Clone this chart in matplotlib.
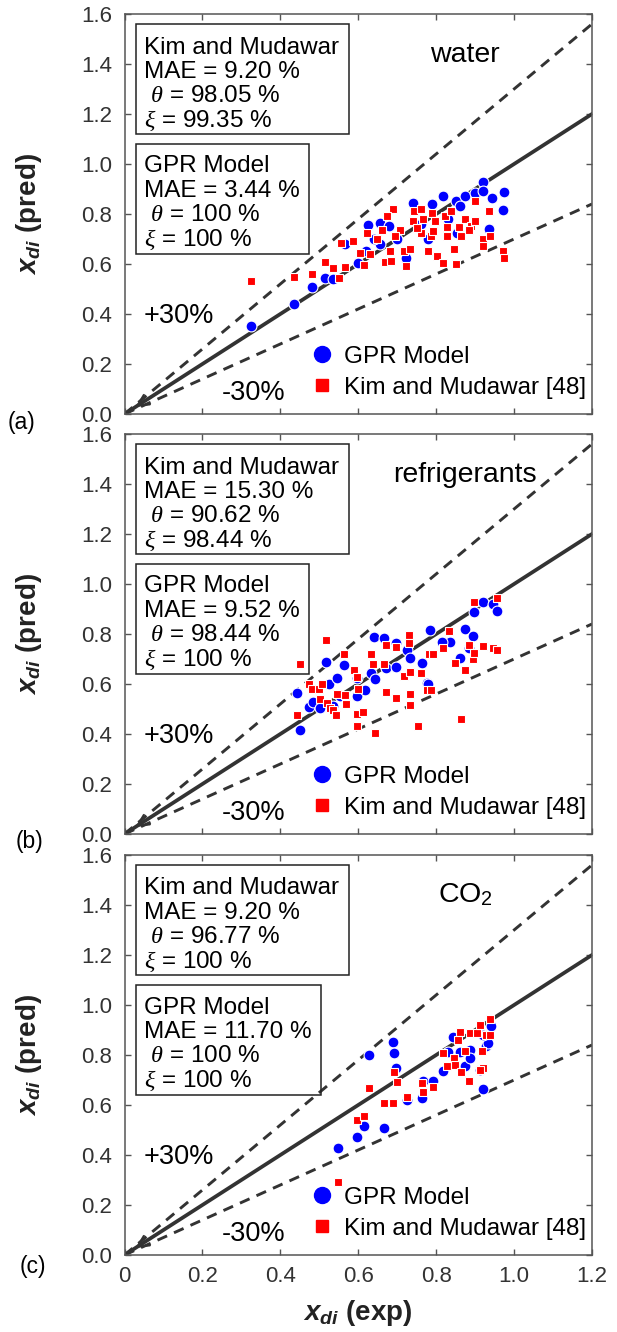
import matplotlib
matplotlib.use("Agg")
import matplotlib.pyplot as plt
from matplotlib.lines import Line2D
from matplotlib.patches import Rectangle
import numpy as np

plt.rcParams["font.family"] = ["Liberation Sans", "DejaVu Sans"]
plt.rcParams["mathtext.fontset"] = "custom"
plt.rcParams["mathtext.rm"] = "Liberation Sans"
plt.rcParams["mathtext.it"] = "Liberation Serif:italic"
plt.rcParams["mathtext.bf"] = "Liberation Sans:bold"
plt.rcParams["mathtext.sf"] = "Liberation Sans:bold:italic"

# ---------------- data ----------------
# (a) water
water_gpr_x = [0.324, 0.435, 0.481, 0.515, 0.535, 0.566, 0.600, 0.626, 0.656, 0.680, 0.656,
               0.723, 0.741, 0.790, 0.818, 0.850, 0.874, 0.860, 0.900, 0.921, 0.921, 0.943,
               0.974, 0.971, 0.936, 0.853, 0.700, 0.760, 0.780, 0.830, 0.620, 0.640]
water_gpr_y = [0.350, 0.440, 0.509, 0.544, 0.540, 0.679, 0.603, 0.756, 0.763, 0.750, 0.680,
               0.623, 0.845, 0.840, 0.872, 0.850, 0.872, 0.830, 0.883, 0.929, 0.890, 0.863,
               0.889, 0.816, 0.740, 0.723, 0.700, 0.760, 0.700, 0.780, 0.650, 0.700]
water_kim_x = [0.324, 0.435, 0.481, 0.514, 0.535, 0.551, 0.566, 0.557, 0.586, 0.616, 0.605,
               0.631, 0.622, 0.661, 0.669, 0.690, 0.674, 0.681, 0.685, 0.707, 0.717, 0.723,
               0.733, 0.741, 0.743, 0.760, 0.765, 0.778, 0.786, 0.790, 0.797, 0.803, 0.818,
               0.822, 0.827, 0.827, 0.839, 0.847, 0.850, 0.858, 0.875, 0.890, 0.900, 0.900,
               0.920, 0.920, 0.936, 0.939, 0.971, 0.974, 0.760, 0.793, 0.695, 0.648, 0.750,
               0.865, 0.885]
water_kim_y = [0.533, 0.549, 0.560, 0.609, 0.583, 0.543, 0.587, 0.683, 0.692, 0.596, 0.643,
               0.641, 0.723, 0.736, 0.609, 0.820, 0.790, 0.650, 0.610, 0.736, 0.650, 0.592,
               0.660, 0.770, 0.810, 0.725, 0.780, 0.652, 0.710, 0.805, 0.770, 0.632, 0.603,
               0.790, 0.747, 0.710, 0.810, 0.660, 0.600, 0.746, 0.780, 0.750, 0.850, 0.770,
               0.700, 0.670, 0.810, 0.710, 0.650, 0.622, 0.820, 0.730, 0.710, 0.700, 0.745,
               0.710, 0.735]

# (b) refrigerants
refr_gpr_x = [0.444, 0.450, 0.474, 0.485, 0.502, 0.517, 0.524, 0.546, 0.564, 0.536, 0.553,
              0.596, 0.596, 0.617, 0.640, 0.632, 0.644, 0.666, 0.671, 0.697, 0.697, 0.726,
              0.733, 0.764, 0.776, 0.784, 0.836, 0.814, 0.861, 0.874, 0.895, 0.898, 0.919,
              0.947, 0.955, 0.885, 0.780]
refr_gpr_y = [0.564, 0.415, 0.509, 0.529, 0.505, 0.689, 0.599, 0.625, 0.676, 0.513, 0.553,
              0.625, 0.553, 0.575, 0.788, 0.645, 0.619, 0.785, 0.663, 0.765, 0.668, 0.735,
              0.705, 0.685, 0.605, 0.815, 0.769, 0.769, 0.705, 0.821, 0.791, 0.889, 0.929,
              0.919, 0.892, 0.745, 0.600]
refr_kim_x = [0.450, 0.442, 0.473, 0.482, 0.500, 0.502, 0.506, 0.517, 0.521, 0.527, 0.536,
              0.543, 0.546, 0.564, 0.568, 0.566, 0.590, 0.596, 0.596, 0.596, 0.600, 0.613,
              0.632, 0.639, 0.644, 0.666, 0.671, 0.671, 0.697, 0.697, 0.717, 0.729, 0.729,
              0.733, 0.733, 0.734, 0.754, 0.762, 0.776, 0.788, 0.782, 0.793, 0.817, 0.834,
              0.849, 0.864, 0.873, 0.883, 0.895, 0.898, 0.919, 0.945, 0.957, 0.956, 0.897]
refr_kim_y = [0.681, 0.476, 0.600, 0.582, 0.580, 0.541, 0.599, 0.776, 0.524, 0.504, 0.497,
              0.476, 0.561, 0.721, 0.520, 0.556, 0.655, 0.628, 0.479, 0.432, 0.580, 0.488,
              0.719, 0.681, 0.403, 0.681, 0.756, 0.568, 0.749, 0.545, 0.631, 0.795, 0.765,
              0.648, 0.560, 0.515, 0.432, 0.644, 0.575, 0.575, 0.719, 0.719, 0.743, 0.812,
              0.685, 0.461, 0.657, 0.756, 0.699, 0.929, 0.752, 0.743, 0.735, 0.943, 0.725]

# (c) CO2
co2_gpr_x = [0.548, 0.596, 0.615, 0.667, 0.628, 0.690, 0.692, 0.698, 0.724, 0.763, 0.765,
             0.793, 0.818, 0.831, 0.844, 0.861, 0.874, 0.887, 0.887, 0.921, 0.928, 0.940,
             0.934, 0.912, 0.921]
co2_gpr_y = [0.429, 0.473, 0.516, 0.507, 0.800, 0.851, 0.807, 0.747, 0.620, 0.627, 0.696,
             0.696, 0.736, 0.813, 0.873, 0.813, 0.756, 0.820, 0.787, 0.664, 0.836, 0.916,
             0.850, 0.740, 0.880]
co2_kim_x = [0.548, 0.596, 0.615, 0.628, 0.667, 0.688, 0.692, 0.700, 0.724, 0.763, 0.767,
             0.793, 0.818, 0.827, 0.847, 0.849, 0.861, 0.864, 0.874, 0.885, 0.887, 0.906,
             0.912, 0.917, 0.921, 0.927, 0.937, 0.912, 0.857, 0.937]
co2_kim_y = [0.291, 0.540, 0.556, 0.667, 0.607, 0.609, 0.733, 0.691, 0.633, 0.689, 0.653,
             0.671, 0.807, 0.756, 0.787, 0.760, 0.893, 0.733, 0.817, 0.697, 0.890, 0.890,
             0.920, 0.817, 0.749, 0.880, 0.944, 0.740, 0.860, 0.880]

fluids = ["water", "refrigerants", "CO$_2$"]
panel_tags = ["(a)", "(b)", "(c)"]
kim_stats = [["Kim and Mudawar", "MAE = 9.20 %", r" $\theta$ = 98.05 %", r"$\xi$ = 99.35 %"],
             ["Kim and Mudawar", "MAE = 15.30 %", r" $\theta$ = 90.62 %", r"$\xi$ = 98.44 %"],
             ["Kim and Mudawar", "MAE = 9.20 %", r" $\theta$ = 96.77 %", r"$\xi$ = 100 %"]]
gpr_stats = [["GPR Model", "MAE = 3.44 %", r" $\theta$ = 100 %", r"$\xi$ = 100 %"],
             ["GPR Model", "MAE = 9.52 %", r" $\theta$ = 98.44 %", r"$\xi$ = 100 %"],
             ["GPR Model", "MAE = 11.70 %", r" $\theta$ = 100 %", r"$\xi$ = 100 %"]]
x_ticks = [0, 0.2, 0.4, 0.6, 0.8, 1.0, 1.2]
x_tick_labels = ["0", "0.2", "0.4", "0.6", "0.8", "1.0", "1.2"]
y_ticks = [0.0, 0.2, 0.4, 0.6, 0.8, 1.0, 1.2, 1.4, 1.6]
y_tick_labels = ["0.0", "0.2", "0.4", "0.6", "0.8", "1.0", "1.2", "1.4", "1.6"]

panels = [(water_gpr_x, water_gpr_y, water_kim_x, water_kim_y),
          (refr_gpr_x, refr_gpr_y, refr_kim_x, refr_kim_y),
          (co2_gpr_x, co2_gpr_y, co2_kim_x, co2_kim_y)]

# ---------------- layout ----------------
W, H = 617, 1332
fig = plt.figure(figsize=(W / 100, H / 100), dpi=100)
AX_L, AX_W, AX_H = 124.5, 467.5, 400.0
tops = [14, 434, 855]
tag_pos = [(-0.221, -0.022), (-0.204, -0.018), (-0.195, -0.030)]

LINE_C = "#333333"
SPINE_C = "#555555"
TICK_C = "#333333"
BOX_FS = 17.5


def frac(px, py):
    """axes fraction from pixel offsets measured from the axes' top-left corner"""
    return px / AX_W, 1 - py / AX_H


axes = []
box_groups = []
for i, (gx, gy, kx, ky) in enumerate(panels):
    bottom = 1 - (tops[i] + AX_H) / H
    ax = fig.add_axes([AX_L / W, bottom, AX_W / W, AX_H / H])
    axes.append(ax)
    ax.set_xlim(0, 1.2)
    ax.set_ylim(0, 1.6)

    ref = np.array([0.0, 1.2])
    ax.plot(ref, ref, color=LINE_C, lw=2.7, zorder=2)
    ax.plot(ref, 1.3 * ref, color=LINE_C, lw=2.1, dashes=(3.6, 2.6), zorder=2)
    ax.plot(ref, 0.7 * ref, color=LINE_C, lw=2.1, dashes=(3.6, 2.6), zorder=2)
    ax.annotate("", xy=(0.028, 0.028), xytext=(0.08, 0.08),
                arrowprops=dict(arrowstyle="->,head_length=0.8,head_width=0.4",
                                color=LINE_C, lw=1.6, shrinkA=0, shrinkB=0), zorder=2)

    ax.plot(gx, gy, "o", ms=7.8, mfc="#0000ff", mec="white", mew=0.8, ls="none", zorder=3)
    ax.plot(kx, ky, "s", ms=6.0, mfc="#ff0000", mec="white", mew=0.8, ls="none", zorder=4)

    # ticks and spines
    ax.set_xticks(x_ticks)
    ax.set_yticks(y_ticks)
    ax.set_yticklabels(y_tick_labels)
    if i == 2:
        ax.set_xticklabels(x_tick_labels)
    else:
        ax.set_xticklabels([])
    ax.tick_params(direction="in", top=True, right=True, length=4, width=1.0,
                   color=SPINE_C, labelsize=16, labelcolor=TICK_C)
    ax.tick_params(axis="y", pad=9)
    ax.tick_params(axis="x", pad=8)
    for sp in ax.spines.values():
        sp.set_color(SPINE_C)
        sp.set_linewidth(1.1)

    ax.set_ylabel(r"$\mathsf{x_{di}}$ (pred)", fontsize=20, fontweight="bold",
                  color="#222222", va="center")
    ax.yaxis.set_label_coords(-0.205, 0.5)
    if i == 2:
        ax.set_xlabel(r"$\mathsf{x_{di}}$ (exp)", fontsize=20, fontweight="bold",
                      color="#222222", va="center")
        ax.xaxis.set_label_coords(0.5, -0.145)

    ax.text(*tag_pos[i], panel_tags[i], transform=ax.transAxes, fontsize=16.5,
            ha="center", va="center")

    # annotations
    ax.text(0.874, 1.41, fluids[i], fontsize=20.5, ha="center", va="baseline")
    ax.text(0.048, 0.363, "+30%", fontsize=19.5, ha="left", va="baseline")
    ax.text(0.2495, 0.056, "-30%", fontsize=19.5, ha="left", va="baseline")

    # statistics boxes
    groups = []
    for lines, top_px, base0 in ((kim_stats[i], 10, 39.5), (gpr_stats[i], 130, 158.5)):
        txts = []
        for k, s in enumerate(lines):
            fx, fy = frac(19, base0 + 24.4 * k)
            txts.append(ax.text(fx, fy, s, transform=ax.transAxes, fontsize=BOX_FS,
                                ha="left", va="baseline", zorder=5))
        groups.append((txts, top_px))
    box_groups.append(groups)

    handles = [Line2D([], [], marker="o", ls="none", ms=11.5, mfc="#0000ff", mec="#0000ff"),
               Line2D([], [], marker="s", ls="none", ms=9.2, mfc="#ff0000", mec="#ff0000")]
    ax.legend(handles, ["GPR Model", "Kim and Mudawar [48]"], loc="center left",
              bbox_to_anchor=(0.396, 0.105), frameon=False, fontsize=17.5,
              handlelength=1.0, handletextpad=0.43, labelspacing=0.37, borderpad=0,
              borderaxespad=0)

# boxes sized to their text
fig.canvas.draw()
renderer = fig.canvas.get_renderer()
for ax, groups in zip(axes, box_groups):
    inv = ax.transAxes.inverted()
    for txts, top_px in groups:
        right = max(t.get_window_extent(renderer).x1 for t in txts)
        rx = inv.transform((right + 10, 0))[0]
        x0, y_top = frac(11.0, top_px)
        _, y_bot = frac(0, top_px + 110)
        ax.add_patch(Rectangle((x0, y_bot), rx - x0, y_top - y_bot, transform=ax.transAxes,
                               fill=False, ec="#222222", lw=1.1, zorder=5))

fig.savefig("out.png", dpi=100, facecolor="white")
